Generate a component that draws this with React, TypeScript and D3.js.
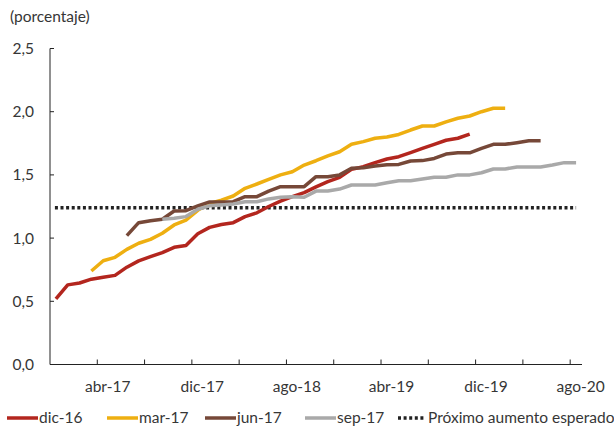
import React from "react";
import * as d3 from "d3";

const MONTH_NAMES = ["ene", "feb", "mar", "abr", "may", "jun", "jul", "ago", "sep", "oct", "nov", "dic"];
// categories: dic-16 .. ago-20 (45 months)
const months: string[] = (() => {
  const out: string[] = [];
  let m = 11, y = 16;
  for (let k = 0; k < 45; k++) {
    out.push(`${MONTH_NAMES[m]}-${y}`);
    m++;
    if (m > 11) { m = 0; y++; }
  }
  return out;
})();

const tickLabels = ["abr-17", "dic-17", "ago-18", "abr-19", "dic-19", "ago-20"];
const yTicks = [0, 0.5, 1.0, 1.5, 2.0, 2.5];

const dic16 = [0.52, 0.63, 0.645, 0.675, 0.69, 0.705, 0.77, 0.82, 0.853, 0.885, 0.927, 0.942, 1.035, 1.085, 1.108, 1.122, 1.17, 1.2, 1.25, 1.293, 1.328, 1.36, 1.405, 1.446, 1.48, 1.544, 1.565, 1.597, 1.626, 1.644, 1.676, 1.71, 1.742, 1.774, 1.79, 1.822];
const mar17 = [0.74, 0.821, 0.848, 0.911, 0.959, 0.99, 1.038, 1.104, 1.143, 1.22, 1.275, 1.30, 1.333, 1.394, 1.428, 1.465, 1.5, 1.525, 1.578, 1.612, 1.65, 1.683, 1.742, 1.763, 1.79, 1.8, 1.82, 1.855, 1.887, 1.887, 1.92, 1.948, 1.966, 2.0, 2.027, 2.027];
const jun17 = [1.02, 1.122, 1.138, 1.149, 1.214, 1.217, 1.254, 1.286, 1.286, 1.288, 1.328, 1.328, 1.372, 1.407, 1.407, 1.407, 1.486, 1.486, 1.5, 1.552, 1.557, 1.57, 1.58, 1.583, 1.61, 1.613, 1.63, 1.665, 1.675, 1.675, 1.71, 1.742, 1.742, 1.755, 1.77, 1.77];
const sep17 = [1.149, 1.157, 1.17, 1.228, 1.256, 1.262, 1.27, 1.288, 1.288, 1.31, 1.323, 1.328, 1.323, 1.372, 1.372, 1.388, 1.42, 1.42, 1.42, 1.438, 1.454, 1.454, 1.467, 1.481, 1.481, 1.5, 1.5, 1.517, 1.547, 1.547, 1.563, 1.563, 1.563, 1.578, 1.597, 1.597];
const proximoAumento = 1.24;

const seriesNames = ["dic-16", "mar-17", "jun-17", "sep-17"];
const seriesStart = ["dic-16", "mar-17", "jun-17", "sep-17"];
const seriesValues = [dic16, mar17, jun17, sep17];
const seriesColors = ["#B3261E", "#EEAF11", "#764838", "#A9A9A9"];

const FONT = "Lato, 'Open Sans', sans-serif";
const TEXT = "#363636";
const FS = 15.5;

export default function App() {
  const W = 614, H = 426;
  const x = d3.scaleBand<string>().domain(months).range([50, 582]).paddingInner(0).paddingOuter(0);
  const bw = x.bandwidth();
  const cx = (m: string) => (x(m) as number) + bw / 2;
  const y = d3.scaleLinear().domain([0, 2.5]).range([364.5, 48.5]);

  const line = d3.line<[string, number]>().x(d => cx(d[0])).y(d => y(d[1]));

  const seriesData = seriesValues.map((vals, s) => {
    const i0 = months.indexOf(seriesStart[s]);
    return vals.map((v, k) => [months[i0 + k], v] as [string, number]);
  });

  const tickIdx = d3.range(4, months.length + 1, 4);

  const legendItems = [
    { x: 7, label: seriesNames[0], color: seriesColors[0] },
    { x: 107, label: seriesNames[1], color: seriesColors[1] },
    { x: 205, label: seriesNames[2], color: seriesColors[2] },
    { x: 305, label: seriesNames[3], color: seriesColors[3] },
  ];

  return (
    <svg width={W} height={H} style={{ position: "absolute", left: 0, top: 0, background: "#fff" }}>
      <text x={10} y={22} fontFamily={FONT} fontSize={FS} fill={TEXT}>(porcentaje)</text>

      {/* y axis */}
      <line x1={50} x2={50} y1={y(2.5)} y2={y(0)} stroke="#222" strokeWidth={1} />
      {yTicks.map(t => (
        <g key={t}>
          <line x1={50} x2={54} y1={y(t)} y2={y(t)} stroke="#222" strokeWidth={1} />
          <text x={34} y={y(t)} dy="0.35em" textAnchor="end" fontFamily={FONT} fontSize={FS} fill={TEXT}>
            {d3.format(".1f")(t).replace(".", ",")}
          </text>
        </g>
      ))}

      {/* x axis */}
      <line x1={50} x2={582} y1={y(0)} y2={y(0)} stroke="#222" strokeWidth={1} />
      {tickIdx.map(i => {
        const xp = i < months.length ? (x(months[i]) as number) : 582;
        return <line key={i} x1={xp} x2={xp} y1={y(0)} y2={y(0) - 5} stroke="#222" strokeWidth={1} />;
      })}
      {tickLabels.map(l => (
        <text key={l} x={cx(l) + 4.5} y={392} textAnchor="middle" fontFamily={FONT} fontSize={FS} fill={TEXT}>{l}</text>
      ))}

      {/* expected next increase */}
      <line x1={cx(months[0]) - 1} x2={cx(months[months.length - 1])} y1={y(proximoAumento)} y2={y(proximoAumento)}
        stroke="#222" strokeWidth={3.5} strokeDasharray="3,2.6" />

      {seriesData.map((d, s) => (
        <path key={s} d={line(d) || ""} fill="none" stroke={seriesColors[s]} strokeWidth={3.5} strokeLinejoin="round" />
      ))}

      {/* legend */}
      {legendItems.map(it => (
        <g key={it.label}>
          <line x1={it.x} x2={it.x + 31} y1={418} y2={418} stroke={it.color} strokeWidth={3.5} />
          <text x={it.x + 32} y={418} dy="0.35em" fontFamily={FONT} fontSize={FS} fill={TEXT}>{it.label}</text>
        </g>
      ))}
      <line x1={398} x2={426} y1={418} y2={418} stroke="#222" strokeWidth={3.5} strokeDasharray="3,2.6" />
      <text x={428} y={418} dy="0.35em" fontFamily={FONT} fontSize={FS} fill={TEXT}>Próximo aumento esperado</text>
    </svg>
  );
}
